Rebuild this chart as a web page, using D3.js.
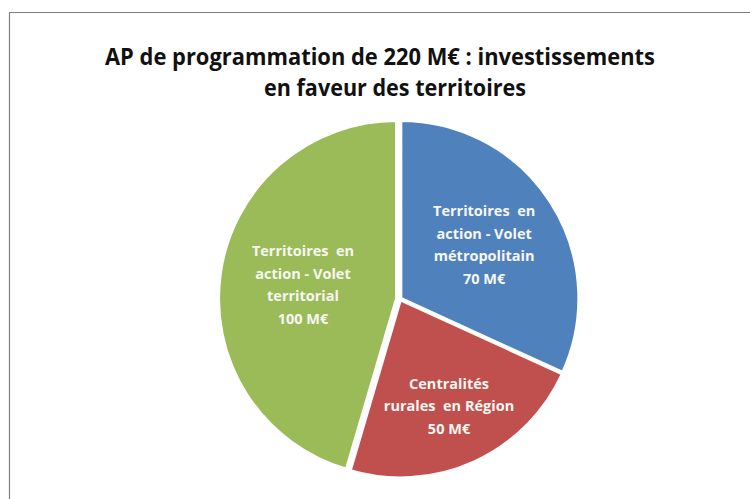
<!DOCTYPE html>
<html><head><meta charset="utf-8">
<script src="https://cdn.jsdelivr.net/npm/d3@7"></script>
<style>body{margin:0;background:#fff}svg{display:block}text{white-space:pre}</style>
</head><body>
<svg id="c" width="750" height="499"></svg>
<script>
const categories = [
  ["Territoires  en", "action - Volet", "métropolitain", "70 M€"],
  ["Centralités", "rurales  en Région", "50 M€"],
  ["Territoires  en", "action - Volet", "territorial", "100 M€"]
];
const values = [70, 50, 100];
const colors = ["#4F81BD", "#C0504D", "#9BBB59"];
const titleLines = ["AP de programmation de 220 M€ : investissements", "en faveur des territoires"];

const svg = d3.select("#c");
// frame
svg.append("path").attr("d","M9.5,499 V12.5 H750").attr("fill","none").attr("stroke","#7f7f7f").attr("stroke-width",1.2);

svg.append("text").attr("x",380).attr("y",65).attr("text-anchor","middle")
  .attr("font-family","Open Sans").attr("font-weight",700).attr("font-size",23.5)
  .attr("fill","#111").attr("textLength",550).attr("lengthAdjust","spacingAndGlyphs").text(titleLines[0]);
svg.append("text").attr("x",395).attr("y",96).attr("text-anchor","middle")
  .attr("font-family","Open Sans").attr("font-weight",700).attr("font-size",23.5)
  .attr("fill","#111").attr("textLength",262).attr("lengthAdjust","spacingAndGlyphs").text(titleLines[1]);

const cx = 400, cy = 299, R = 178;
const pie = d3.pie().sort(null).value(d => d)(values);
const arc = d3.arc().innerRadius(0).outerRadius(R);
const explode = [1, 1, 3.5];
const labelR = [100, 118, 98];
const g = svg.append("g").attr("transform", `translate(${cx},${cy})`);

g.selectAll("path.s").data(pie).join("path").attr("class","s")
  .attr("d", arc).attr("fill", (d,i) => colors[i])
  .attr("stroke","#fff").attr("stroke-width",3).attr("stroke-linejoin","round")
  .attr("transform", (d,i) => {
    const a = (d.startAngle + d.endAngle)/2;
    return `translate(${Math.sin(a)*explode[i]},${-Math.cos(a)*explode[i]})`;
  });

pie.forEach((d,i) => {
  const la = d3.arc().innerRadius(labelR[i]).outerRadius(labelR[i]);
  const [x,y] = la.centroid(d);
  const lines = categories[i];
  const lh = 22.5;
  const t = g.append("text").attr("text-anchor","middle")
    .attr("font-family","Open Sans").attr("font-weight",700).attr("font-size",14.5)
    .attr("fill","#f7f7f2");
  lines.forEach((l,k) => {
    t.append("tspan").attr("x", x).attr("y", y + (k - (lines.length-1)/2)*lh + 5).text(l);
  });
});
</script>
</body></html>
